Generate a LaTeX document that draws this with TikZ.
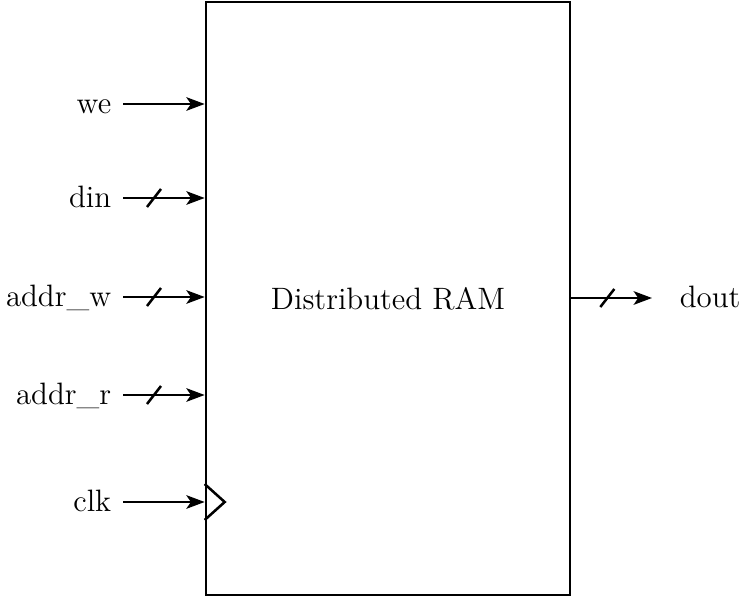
\documentclass[tikz,border=0pt]{standalone}
\usetikzlibrary{arrows.meta}

\begin{document}
\begin{tikzpicture}[x=0.0125cm,y=-0.0125cm,
    sig/.style={-{Stealth[length=6.5pt,width=4.8pt,inset=1.6pt]},line width=0.9pt},
    bus/.style={line width=0.9pt},
    port/.style={inner sep=4pt,text height=2ex,text depth=0.5ex,font=\fontsize{11}{13}\selectfont}]

\useasboundingbox (0,0) rectangle (740,598);
\node [draw,line width=0.9pt,minimum width=4.55cm,minimum height=7.4125cm,
       font=\fontsize{11}{13}\selectfont] (ram) at (388,298.5){Distributed RAM};

% inputs
\node [port,anchor=east] (we) at (123,104){we};
\node [port,anchor=east] (din) at (123,198){din};
\node [port,anchor=east] (addrw) at (123,297){addr\_w};
\node [port,anchor=east] (addrr) at (123,395){addr\_r};
\node [port,anchor=east] (clk) at (123,502){clk};
\draw[sig] (we) -- (we -| ram.west);
\draw[sig] (din) -- (din -| ram.west);
\draw[sig] (addrw) -- (addrw -| ram.west);
\draw[sig] (addrr) -- (addrr -| ram.west);
\draw[sig] (clk) -- (clk -| ram.west);

% bus width marks
\draw[bus] ([shift={(24,9)}]din.east) -- ++(14,-18);
\draw[bus] ([shift={(24,9)}]addrw.east) -- ++(14,-18);
\draw[bus] ([shift={(24,9)}]addrr.east) -- ++(14,-18);

% clock input
\draw[bus] (clk -| ram.west) ++(0,-18) -- ++(20,18) -- ++(-20,18);

% output
\node [port,anchor=west] (dout) at (668,298){dout};
\draw[sig,shorten >=5.7pt] (ram.east |- dout) -- (dout);
\draw[bus] ([shift={(29,9)}]ram.east |- dout) -- ++(14,-18);
\end{tikzpicture}
\end{document}
